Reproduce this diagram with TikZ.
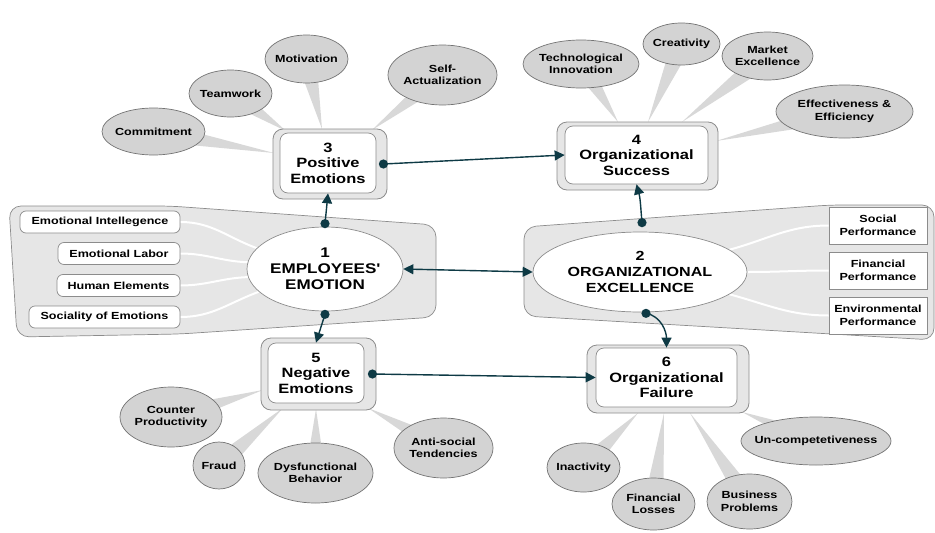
\documentclass[tikz,border=0pt]{standalone}
\usepackage{fontspec}
\setmainfont[FakeStretch=1.22]{Liberation Sans}
\usetikzlibrary{shapes.geometric,arrows.meta,calc}
\pgfdeclarelayer{bg}
\pgfdeclarelayer{mid}
\pgfsetlayers{bg,mid,main}

\definecolor{grpfill}{RGB}{230,230,230}
\definecolor{grpline}{RGB}{140,140,140}
\definecolor{bubfill}{RGB}{211,211,211}
\definecolor{bubline}{RGB}{115,115,115}
\definecolor{spokefill}{RGB}{216,216,216}
\definecolor{linkc}{RGB}{14,58,69}

\newcommand\smallf{\fontsize{10.3}{12.5}\selectfont\bfseries}
\newcommand\boxf{\fontsize{13.5}{15.5}\selectfont\bfseries}
\newcommand\bigf{\fontsize{14}{16}\selectfont\bfseries}
% tapered grey spoke from a bubble towards a frame
\newcommand\bubspoke[3][10pt]{\fill[spokefill] ($(#2)!#1!90:(#3)$) -- (#3) -- ($(#2)!#1!-90:(#3)$) -- cycle;}

\tikzset{
  bubble/.style={ellipse, draw=bubline, fill=bubfill, line width=0.7pt,
    inner xsep=-15pt, inner ysep=0pt, align=center, font=\smallf},
  grp/.style={draw=grpline, fill=grpfill, line width=0.7pt, rounded corners=12pt},
  subbox/.style={draw=grpline, fill=white, rounded corners=6pt, line width=0.7pt,
    font=\smallf, inner sep=0pt, minimum height=22pt},
  perfbox/.style={draw=grpline, fill=white, line width=0.7pt,
    font=\fontsize{10.3}{13}\selectfont\bfseries, align=center, inner sep=0pt,
    minimum width=98pt, minimum height=37pt},
  coreell/.style={ellipse, draw=grpline, fill=white, line width=0.7pt,
    inner sep=0pt, align=center, font=\bigf},
  frameout/.style={draw=grpline, fill=grpfill, rounded corners=10pt, line width=0.8pt, inner sep=0pt},
  framein/.style={draw=grpline, fill=white, rounded corners=8pt, line width=0.7pt,
    inner sep=0pt, align=center, font=\boxf},
  feed/.style={white, line width=2pt},
  link/.style={draw=linkc, line width=1.4pt, -{Triangle[length=10pt,width=10pt]}},
  linkboth/.style={draw=linkc, line width=1.4pt,
    {Triangle[length=10pt,width=10pt]}-{Triangle[length=10pt,width=10pt]}},
  dot/.style={fill=linkc},
}

\begin{document}
\begin{tikzpicture}[x=1pt,y=-1pt]
\useasboundingbox (0,0) rectangle (935,533);

% central concepts
\node[coreell, minimum width=156pt, minimum height=84pt] (emo) at (325,269)
  {1\\EMPLOYEES\textquotesingle\\EMOTION};
\node[coreell, minimum width=214pt, minimum height=80pt,
  font=\fontsize{13.2}{16}\selectfont\bfseries] (exc) at (640,272)
  {2\\ORGANIZATIONAL\\EXCELLENCE};

% antecedents of employees' emotion
\node[subbox, minimum width=160pt] (ei) at (100,222) {Emotional Intellegence};
\node[subbox, minimum width=122pt] (el) at (119,253.5) {Emotional Labor};
\node[subbox, minimum width=123pt] (he) at (118.5,285.5) {Human Elements};
\node[subbox, minimum width=151pt] (se) at (104.5,317) {Sociality of Emotions};

% dimensions of organizational excellence
\node[perfbox] (sp) at (878,225.5) {Social\\Performance};
\node[perfbox] (fp) at (878,270.5) {Financial\\Performance};
\node[perfbox] (ep) at (878,315.5) {Environmental\\Performance};

% outcome frames
\node[frameout, minimum width=114pt, minimum height=70pt] (p3o) at (330,164) {};
\node[framein, minimum width=96pt, minimum height=60pt] (p3) at (328,163) {3\\Positive\\Emotions};
\node[frameout, minimum width=161pt, minimum height=68pt] (p4o) at (637.5,156) {};
\node[framein, minimum width=143pt, minimum height=58pt] (p4) at (636.5,155) {4\\Organizational\\Success};
\node[frameout, minimum width=115pt, minimum height=72pt] (p5o) at (318.5,374) {};
\node[framein, minimum width=96pt, minimum height=60pt] (p5) at (316,373) {5\\Negative\\Emotions};
\node[frameout, minimum width=162pt, minimum height=68pt] (p6o) at (668,379) {};
\node[framein, minimum width=141pt, minimum height=59pt] (p6) at (666.5,377.5) {6\\Organizational\\Failure};

% bubbles around positive emotions
\node[bubble, minimum width=103pt, minimum height=47pt] (b31) at (153.5,131.5) {Commitment};
\node[bubble, minimum width=83pt, minimum height=47pt] (b32) at (230.5,93.5) {Teamwork};
\node[bubble, minimum width=83pt, minimum height=48pt] (b33) at (306.5,59) {Motivation};
\node[bubble, minimum width=109pt, minimum height=60pt] (b34) at (442.5,75) {Self-\\Actualization};
% bubbles around organizational success
\node[bubble, minimum width=116pt, minimum height=48pt] (b41) at (581,64) {Technological\\Innovation};
\node[bubble, minimum width=77pt, minimum height=42pt] (b42) at (681.5,44) {Creativity};
\node[bubble, minimum width=91pt, minimum height=48pt] (b43) at (767.5,56) {Market\\Excellence};
\node[bubble, minimum width=137pt, minimum height=53pt] (b44) at (844.5,111.5) {Effectiveness \&\\Efficiency};
% bubbles around negative emotions
\node[bubble, minimum width=102pt, minimum height=60pt] (b51) at (171,417) {Counter\\Productivity};
\node[bubble, minimum width=52pt, minimum height=47pt] (b52) at (219,465.5) {Fraud};
\node[bubble, minimum width=115pt, minimum height=60pt] (b53) at (315.5,473) {Dysfunctional\\Behavior};
\node[bubble, minimum width=99pt, minimum height=60pt] (b54) at (443.5,448) {Anti-social\\Tendencies};
% bubbles around organizational failure
\node[bubble, minimum width=73pt, minimum height=49pt] (b61) at (583.5,467.5) {Inactivity};
\node[bubble, minimum width=83pt, minimum height=52pt] (b62) at (653.5,504) {Financial\\Losses};
\node[bubble, minimum width=85pt, minimum height=55pt] (b63) at (749.5,501.5) {Business\\Problems};
\node[bubble, minimum width=150pt, minimum height=48pt] (b64) at (816,441) {Un-competetiveness};

% spoke tips on the frames
\coordinate (t31) at (274,153);
\coordinate (t32) at (286,131);
\coordinate (t33) at (322,129);
\coordinate (t34) at (372,130);
\coordinate (t41) at (618,122);
\coordinate (t42) at (648,122);
\coordinate (t43) at (682,122);
\coordinate (t44) at (716,141);
\coordinate (t51) at (263,390);
\coordinate (t52) at (283,408);
\coordinate (t53) at (316,409);
\coordinate (t54) at (368,408);
\coordinate (t61) at (638,413);
\coordinate (t62) at (664,413);
\coordinate (t63) at (690,413);
\coordinate (t64) at (742,412);

% grey group panels
\begin{pgfonlayer}{bg}
  \draw[grp] (9,206) -- (170,206) -- (436,225) -- (436,317) -- (180,334) -- (17,337) -- cycle;
  \draw[grp] (524,227) -- (830,205) -- (934,205) -- (934,340) -- (524,316) -- cycle;
\end{pgfonlayer}

% spokes and white feeder curves
\begin{pgfonlayer}{mid}
  \bubspoke{b31}{t31}\bubspoke{b32}{t32}\bubspoke{b33}{t33}\bubspoke{b34}{t34}
  \bubspoke{b41}{t41}\bubspoke{b42}{t42}\bubspoke{b43}{t43}\bubspoke{b44}{t44}
  \bubspoke{b51}{t51}\bubspoke{b52}{t52}\bubspoke{b53}{t53}\bubspoke{b54}{t54}
  \bubspoke{b61}{t61}\bubspoke{b62}{t62}\bubspoke{b63}{t63}\bubspoke{b64}{t64}
  \draw[feed] (ei.east) to[out=0,in=160] (emo.163);
  \draw[feed] (el.east) to[out=0,in=178] (emo.175);
  \draw[feed] (he.east) to[out=0,in=182] (emo.186);
  \draw[feed] (se.east) to[out=0,in=200] (emo.199);
  \draw[feed] (exc.14) to[out=15,in=180] (sp.west);
  \draw[feed] (exc.0) to[out=0,in=180] (fp.west);
  \draw[feed] (exc.-14) to[out=-15,in=180] (ep.west);
\end{pgfonlayer}

% causal links
\fill[dot] ([yshift=3pt]emo.north) circle (4.6pt);
\draw[link] ([yshift=3pt]emo.north) -- (p3.south);
\fill[dot] ([yshift=-3pt]emo.south) circle (4.6pt);
\draw[link] ([yshift=-3pt]emo.south) -- (p5.north);
\draw[linkboth] (emo.east) -- (exc.west);
\fill[dot] ([xshift=-4pt]p3o.east) circle (4.6pt);
\draw[link] ([xshift=-4pt]p3o.east) -- (p4.west);
\fill[dot] ([shift={(2pt,9pt)}]exc.north) circle (4.6pt);
\draw[link] ([shift={(2pt,9pt)}]exc.north) to[out=95,in=-75] (p4.south);
\fill[dot] ([shift={(6pt,-1pt)}]exc.south) circle (4.6pt);
\draw[link] ([shift={(6pt,-1pt)}]exc.south) to[out=-10,in=90] (p6.north);
\fill[dot] ([xshift=-4pt]p5o.east) circle (4.6pt);
\draw[link] ([xshift=-4pt]p5o.east) -- (p6.west);
\end{tikzpicture}
\end{document}
